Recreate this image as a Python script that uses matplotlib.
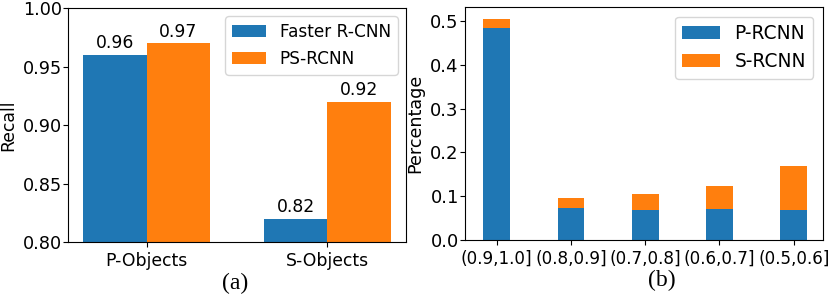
import matplotlib
matplotlib.use("Agg")
import matplotlib.pyplot as plt
import numpy as np

plt.rcParams['font.family'] = ['DejaVu Sans']

# Panel (a)
groups = ["P-Objects", "S-Objects"]
faster_rcnn = [0.96, 0.82]
ps_rcnn = [0.97, 0.92]

# Panel (b)
bins = ["(0.9,1.0]", "(0.8,0.9]", "(0.7,0.8]", "(0.6,0.7]", "(0.5,0.6]"]
p_rcnn = [0.483, 0.073, 0.069, 0.071, 0.068]
s_rcnn = [0.022, 0.023, 0.036, 0.052, 0.102]

blue = "#1f77b4"
orange = "#ff7f0e"

fig = plt.figure(figsize=(8.31, 2.97), dpi=100)
ax1 = fig.add_axes([0.082, 0.185, 0.4066, 0.788])
ax2 = fig.add_axes([0.5596, 0.192, 0.4304, 0.783])

x = np.arange(len(groups))
w = 0.35
b1 = ax1.bar(x - w/2, faster_rcnn, w, color=blue, label="Faster R-CNN")
b2 = ax1.bar(x + w/2, ps_rcnn, w, color=orange, label="PS-RCNN")
for bars, vals in ((b1, faster_rcnn), (b2, ps_rcnn)):
    for r, v in zip(bars, vals):
        ax1.text(r.get_x() + r.get_width()/2, v + 0.002, f"{v:.2f}",
                 ha="center", va="bottom", fontsize=12.4)
ax1.set_ylim(0.80, 1.00)
ax1.set_xlim(-0.434, 1.435)
ax1.set_xticks(x)
ax1.set_xticklabels(groups)
ax1.set_yticks([0.80, 0.85, 0.90, 0.95, 1.00])
ax1.set_ylabel("Recall", fontsize=12.4, labelpad=4)
ax1.tick_params(axis="y", labelsize=12.7, pad=1)
ax1.tick_params(axis="x", labelsize=12.4)
ax1.legend(loc="upper right", fontsize=12.2)

xb = np.arange(len(bins))
wb = 0.36
ax2.bar(xb, p_rcnn, wb, color=blue, label="P-RCNN")
ax2.bar(xb, s_rcnn, wb, bottom=p_rcnn, color=orange, label="S-RCNN")
ax2.set_xlim(-0.426, 4.39)
ax2.set_ylim(0, 0.531)
ax2.set_xticks(xb)
ax2.set_xticklabels(bins)
ax2.set_yticks([0.0, 0.1, 0.2, 0.3, 0.4, 0.5])
ax2.set_ylabel("Percentage", fontsize=12.6, labelpad=4)
ax2.tick_params(axis="y", labelsize=13, pad=1)
ax2.tick_params(axis="x", labelsize=12.1)
ax2.legend(loc="upper right", fontsize=13.4)

fig.text(0.283, 0.046, "(a)", family="Liberation Serif", fontsize=17, ha="center", va="center")
fig.text(0.797, 0.057, "(b)", family="Liberation Serif", fontsize=17, ha="center", va="center")

fig.savefig("out.png", dpi=100)
